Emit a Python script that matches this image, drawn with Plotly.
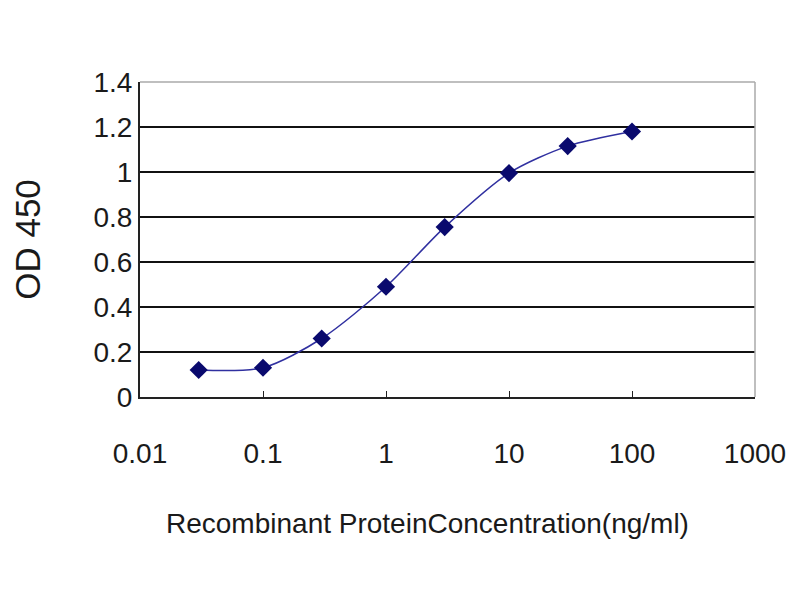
import plotly.graph_objects as go

concentration = [0.03, 0.1, 0.3, 1, 3, 10, 30, 100]
od450 = [0.12, 0.13, 0.26, 0.49, 0.755, 0.995, 1.115, 1.18]
x_ticks = [0.01, 0.1, 1, 10, 100, 1000]
x_tick_labels = ["0.01", "0.1", "1", "10", "100", "1000"]
y_ticks = [0, 0.2, 0.4, 0.6, 0.8, 1.0, 1.2, 1.4]
y_tick_labels = ["0", "0.2", "0.4", "0.6", "0.8", "1", "1.2", "1.4"]
x_title = "Recombinant ProteinConcentration(ng/ml)"
y_title = "OD 450"

FONT = "Liberation Sans, Arial, sans-serif"

fig = go.Figure()
fig.add_trace(go.Scatter(
    x=concentration, y=od450, mode="lines+markers",
    line=dict(color="#3030a0", width=1.5, shape="spline", smoothing=0.8),
    marker=dict(symbol="diamond", size=14, color="#0a0a6e"),
    showlegend=False,
))

fig.update_layout(
    width=800, height=600,
    paper_bgcolor="white", plot_bgcolor="white",
    margin=dict(l=132, r=53, t=74, b=211),
    font=dict(family=FONT, color="#1a1a1a", size=26),
    xaxis=dict(
        type="log", range=[-2, 3],
        tickvals=x_ticks, ticktext=x_tick_labels,
        showgrid=False, showline=True, linecolor="#222222", linewidth=2,
        mirror=False, ticks="inside", ticklen=6, tickcolor="#222222",
        tickfont=dict(size=28), ticklabelstandoff=30,
        zeroline=False,
    ),
    yaxis=dict(
        range=[0, 1.4], tickvals=y_ticks, ticktext=y_tick_labels,
        showgrid=True, gridcolor="#111111", gridwidth=2,
        showline=True, linecolor="#222222", linewidth=2,
        ticks="", tickfont=dict(size=28),
        title=dict(text=y_title, font=dict(size=35), standoff=42),
        zeroline=False,
    ),
    annotations=[
        dict(text=x_title, xref="paper", yref="paper", x=0.467, y=-0.40,
             xanchor="center", yanchor="middle", showarrow=False,
             font=dict(size=28, family=FONT, color="#1a1a1a")),
    ],
    shapes=[
        dict(type="line", xref="paper", yref="paper", x0=0, x1=1, y0=1, y1=1,
             line=dict(color="#aaaaaa", width=1.5)),
        dict(type="line", xref="paper", yref="paper", x0=1, x1=1, y0=0, y1=1,
             line=dict(color="#aaaaaa", width=1.5)),
    ],
)

fig.write_html("out.html")
